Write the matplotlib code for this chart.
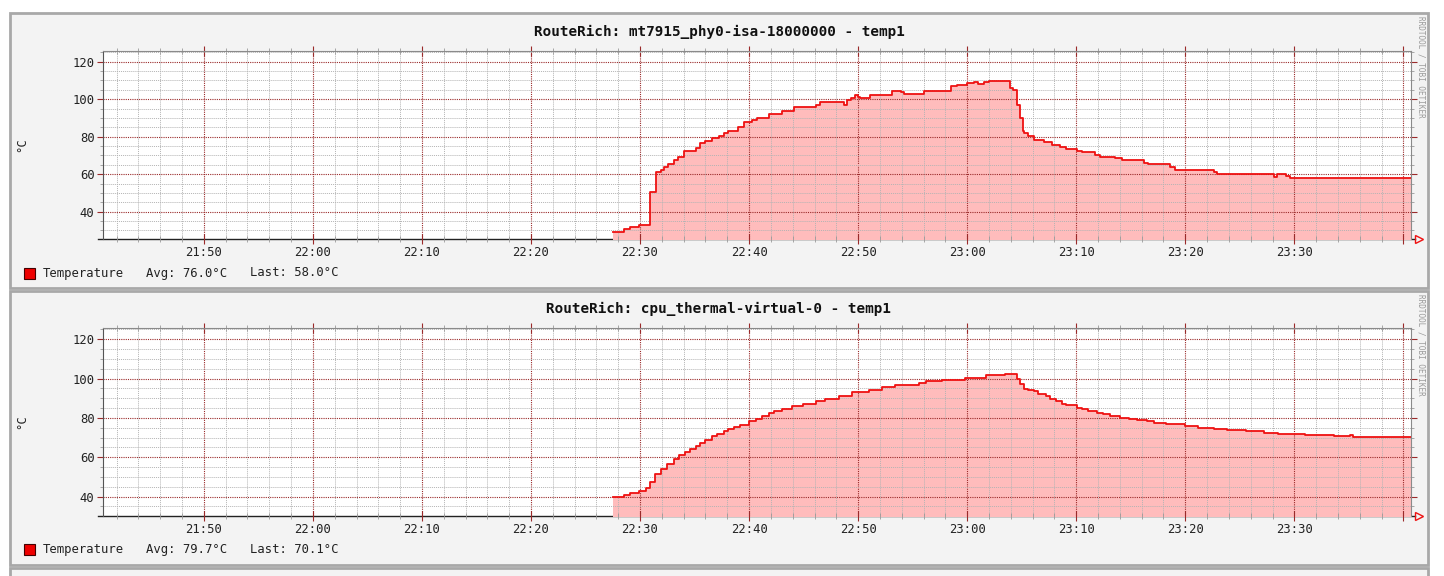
import matplotlib
matplotlib.use("Agg")
import matplotlib.pyplot as plt
from matplotlib.patches import Rectangle
from matplotlib.ticker import FixedLocator, MultipleLocator, NullFormatter

# Data: minutes after 21:00, step values (degrees C)
top_title = "RouteRich: mt7915_phy0-isa-18000000 - temp1"
top_times = [87.5, 88.5, 89.1, 89.9, 90.95, 91.5, 91.9, 92.2, 92.6, 93.1, 93.5, 94.0,
             95.1, 95.5, 96.0, 96.6, 97.2, 97.7, 98.1, 99.0, 99.5, 100.3, 100.7, 101.8,
             103.0, 104.1, 106.1, 106.5, 108.7, 109.0, 109.3, 109.7, 110.0, 110.2, 111.1,
             113.1, 113.9, 114.2, 116.0, 118.5, 119.1, 120.0, 120.6, 121.0, 121.5, 122.0,
             123.9, 124.2, 124.6, 124.8, 125.1, 125.2, 125.6, 126.1, 127.0, 127.8, 128.5,
             129.1, 130.1, 130.5, 131.7, 132.2, 133.6, 134.2, 136.2, 136.6, 138.6, 139.1,
             142.6, 142.9, 148.1, 148.4, 149.2, 149.6, 160.7]
top_vals = [29.3, 30.6, 31.6, 33.0, 50.7, 61.3, 62.2, 64.0, 65.4, 67.6, 69.0, 72.4,
            73.8, 76.4, 77.9, 79.1, 80.4, 81.8, 83.2, 85.0, 88.0, 88.9, 90.1, 92.1,
            93.9, 96.0, 97.0, 98.4, 97.0, 99.3, 100.5, 102.3, 101.4, 100.5, 102.3,
            104.1, 103.6, 102.7, 104.1, 106.8, 107.6, 108.5, 109.2, 108.2, 108.9, 109.8,
            105.9, 105.0, 97.0, 89.9, 82.8, 81.9, 80.1, 78.3, 76.9, 75.6, 74.4,
            73.5, 72.4, 71.6, 70.3, 69.4, 68.4, 67.6, 66.2, 65.3, 63.6, 62.2,
            61.2, 60.0, 58.6, 60.0, 58.9, 58.0, 58.0]
top_avg = "Avg: 76.0°C"
top_last = "Last: 58.0°C"
top_ylim = (25.4, 125.7)

bot_title = "RouteRich: cpu_thermal-virtual-0 - temp1"
bot_times = [87.5, 88.5, 89.1, 89.9, 90.5, 90.95, 91.4, 91.9, 92.5, 93.1, 93.55, 94.1,
             94.6, 95.1, 95.5, 96.0, 96.6, 97.1, 97.7, 98.1, 98.6, 99.2, 100.0, 100.6,
             101.2, 101.8, 102.3, 103.0, 103.9, 104.9, 106.1, 107.0, 108.2, 109.4, 111.0,
             112.2, 113.4, 115.6, 116.2, 117.7, 119.8, 121.7, 123.5, 124.6, 124.8, 125.2,
             125.6, 126.1, 126.5, 127.2, 127.6, 128.1, 128.7, 129.1, 130.1, 130.5, 131.1,
             131.9, 132.5, 133.1, 134.0, 134.8, 135.6, 136.5, 137.1, 138.2, 138.9, 140.0,
             141.2, 142.6, 143.8, 145.6, 147.2, 148.5, 151.0, 153.6, 155.1, 155.4, 156.9,
             160.7]
bot_vals = [39.6, 40.7, 41.9, 43.0, 44.3, 47.5, 51.7, 54.2, 56.4, 59.3, 61.0, 62.7,
            64.1, 65.6, 67.5, 69.0, 70.7, 72.0, 73.2, 74.4, 75.4, 76.6, 78.3, 79.7,
            80.8, 82.5, 83.6, 84.7, 86.1, 87.3, 88.6, 89.8, 91.2, 93.2, 94.4,
            95.8, 96.9, 98.0, 98.8, 99.5, 100.3, 101.7, 102.2, 100.0, 97.5, 94.9,
            94.1, 93.6, 92.4, 91.0, 89.8, 88.6, 87.3, 86.4, 85.3, 84.4, 83.6,
            82.7, 81.9, 81.0, 80.0, 79.3, 78.8, 78.3, 77.6, 77.1, 76.8, 75.8,
            75.1, 74.4, 73.7, 73.2, 72.5, 71.9, 71.4, 70.7, 71.2, 70.5, 70.1,
            70.1]
bot_avg = "Avg: 79.7°C"
bot_last = "Last: 70.1°C"
bot_ylim = (30.3, 125.6)

x_ticks = [50, 60, 70, 80, 90, 100, 110, 120, 130, 140, 150, 160]
x_labels = ["21:50", "22:00", "22:10", "22:20", "22:30", "22:40", "22:50",
            "23:00", "23:10", "23:20", "23:30", ""]
y_ticks = [40, 60, 80, 100, 120]
x_range = (40.75, 160.7)

W, H = 1444, 576
MONO = "DejaVu Sans Mono"
MGRID = "#9a2a2a"
GRID = "#b4b4b4"

fig = plt.figure(figsize=(W / 100, H / 100), dpi=100)
fig.patch.set_facecolor("white")

# background canvas in pixel coordinates
bg = fig.add_axes([0, 0, 1, 1], zorder=-10)
bg.set_xlim(0, W)
bg.set_ylim(H, 0)
bg.axis("off")

panels = [(13, 288), (291, 565), (568, 600)]
for top, bottom in panels:
    bg.add_patch(Rectangle((10, top), 1418, bottom - top, facecolor="#f3f3f3",
                           edgecolor="#a8a8a8", linewidth=2))
for top in (13, 291):
    bg.text(1421, top + 3, "RRDTOOL / TOBI OETIKER", rotation=270, ha="center", va="top",
            fontsize=5.5, color="#999999", family=MONO)


def draw_panel(y_top, y_bot, title, times, vals, ylim, avg, last):
    ax = fig.add_axes([103 / W, 1 - y_bot / H, (1411 - 103) / W, (y_bot - y_top) / H])
    ax.set_facecolor("white")
    ax.fill_between(times, vals, ylim[0] - 5, step="post", color="#ffbcbc", linewidth=0, zorder=1)
    ax.plot(times, vals, drawstyle="steps-post", color="#ee1111", linewidth=1.3, zorder=2)
    ax.set_xlim(*x_range)
    ax.set_ylim(*ylim)

    ax.xaxis.set_major_locator(FixedLocator(x_ticks))
    ax.set_xticklabels(x_labels)
    ax.xaxis.set_minor_locator(MultipleLocator(2))
    ax.yaxis.set_major_locator(FixedLocator(y_ticks))
    ax.yaxis.set_minor_locator(MultipleLocator(5))
    ax.yaxis.set_minor_formatter(NullFormatter())

    ax.set_axisbelow("line")
    ax.grid(which="major", color=MGRID, linestyle=(0, (1, 1)), linewidth=0.8)
    ax.grid(which="minor", color=GRID, linestyle=(0, (1, 1)), linewidth=0.7)

    ax.tick_params(axis="x", which="major", direction="inout", length=7, width=0.8,
                   color=MGRID, pad=1.5, labelsize=8.8, labelcolor="#222222", top=True)
    ax.tick_params(axis="x", which="minor", direction="inout", length=4, width=0.6,
                   color="#999999", top=True)
    ax.tick_params(axis="y", which="major", direction="out", length=4, width=0.8,
                   color=MGRID, pad=2, labelsize=8.8, labelcolor="#222222", right=True)
    ax.tick_params(axis="y", which="minor", direction="out", length=2, width=0.6,
                   color="#999999", right=True)
    for lbl in ax.get_xticklabels() + ax.get_yticklabels():
        lbl.set_family(MONO)

    ax.spines["left"].set_color("#555555")
    ax.spines["top"].set_color("#8a8a8a")
    ax.spines["right"].set_color("#8a8a8a")
    ax.spines["bottom"].set_visible(False)

    # x axis with arrow
    ax.plot([-0.004, 1.003], [0, 0], transform=ax.transAxes, clip_on=False,
            color="#222222", linewidth=1.0, zorder=0.5)
    ax.plot([1.006], [0], transform=ax.transAxes, clip_on=False, marker=">",
            markersize=6, markerfacecolor="none", markeredgecolor="#ee1111",
            markeredgewidth=1.0, zorder=3)

    bg.text(719, y_top - 19, title, ha="center", va="center", fontsize=10.3,
            fontweight="bold", family=MONO, color="#111111")
    bg.text(22, (y_top + y_bot) / 2, "°C", rotation=90, ha="center", va="center",
            fontsize=8.8, family=MONO, color="#222222")

    ly = y_bot + 34
    bg.add_patch(Rectangle((24, ly - 5.5), 11, 11, facecolor="#ee0000",
                           edgecolor="#440000", linewidth=0.8))
    bg.text(43, ly, "Temperature", ha="left", va="center", fontsize=8.8, family=MONO,
            color="#222222")
    bg.text(146, ly, avg, ha="left", va="center", fontsize=8.8, family=MONO, color="#222222")
    bg.text(250, ly, last, ha="left", va="center", fontsize=8.8, family=MONO, color="#222222")
    return ax


draw_panel(51, 239, top_title, top_times, top_vals, top_ylim, top_avg, top_last)
draw_panel(328.3, 515.7, bot_title, bot_times, bot_vals, bot_ylim, bot_avg, bot_last)

fig.savefig("out.png", dpi=100)
